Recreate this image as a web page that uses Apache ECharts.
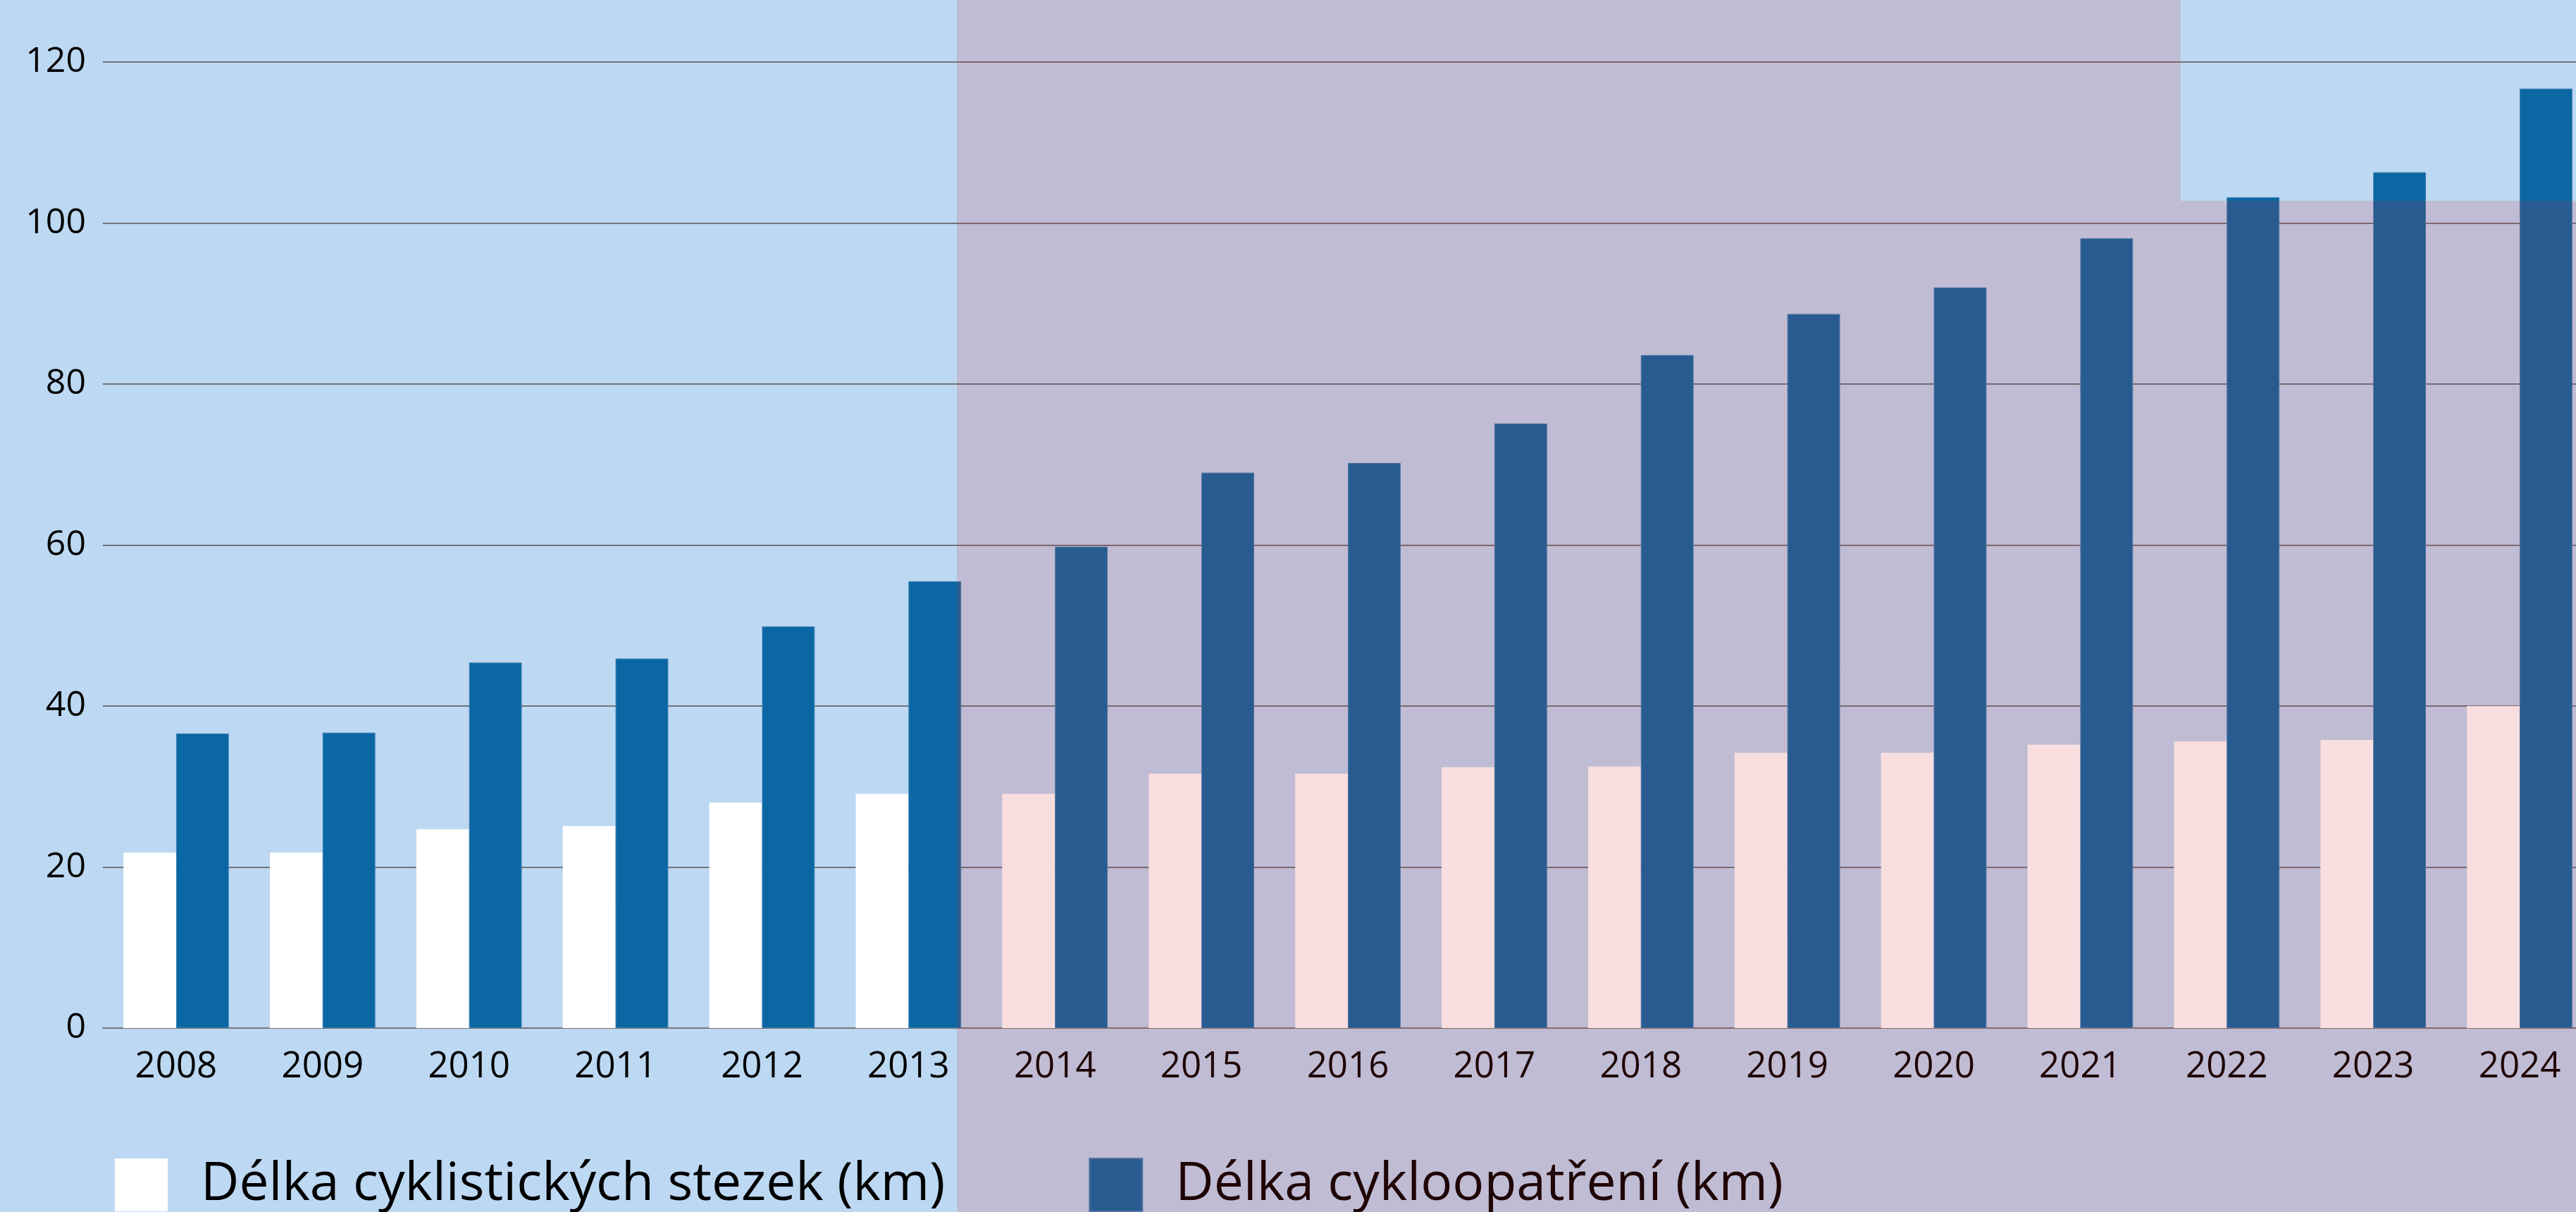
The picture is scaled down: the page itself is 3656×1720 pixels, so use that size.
<!DOCTYPE html>
<html>
<head>
<meta charset="utf-8">
<script src="https://cdn.jsdelivr.net/npm/echarts@6/dist/echarts.min.js"></script>
<style>
  html, body { margin: 0; padding: 0; background: #bdd8f2; }
  #main { width: 3656px; height: 1720px; }
</style>
</head>
<body>
<div id="main"></div>
<script>
const myChart = echarts.init(document.querySelector('#main'))

const years = ['2008', '2009', '2010', '2011', '2012', '2013', '2014', '2015', '2016',
  '2017', '2018', '2019', '2020', '2021', '2022', '2023', '2024']
// Délka cyklistických stezek (km)
const stezky = [21.8, 21.8, 24.7, 25.1, 28.0, 29.1, 29.1, 31.6, 31.6,
  32.4, 32.5, 34.2, 34.2, 35.2, 35.6, 35.8, 40.0]
// Délka cykloopatření (km)
const opatreni = [36.6, 36.7, 45.4, 45.9, 49.9, 55.5, 59.8, 69.0, 70.2,
  75.1, 83.6, 88.7, 92.0, 98.1, 103.2, 106.3, 116.7]

const names = ['Délka cyklistických stezek (km)', 'Délka cykloopatření (km)']

let option = {
  backgroundColor: '#bdd8f2',
  textStyle: { fontFamily: '"Open Sans", "Noto Sans", sans-serif' },
  grid: {
    left: 146,
    right: -24,
    top: 88,
    bottom: 261,
    outerBoundsMode: 'none'
  },
  legend: {
    data: names,
    left: 163,
    top: 1643,
    padding: 0,
    itemWidth: 75,
    itemHeight: 75,
    itemGap: 204,
    icon: 'rect',
    textStyle: {
      fontSize: 75,
      color: '#000',
      padding: [0, 0, 0, 42]
    }
  },
  xAxis: {
    type: 'category',
    data: years,
    axisLine: { lineStyle: { color: '#777', width: 2 } },
    axisTick: { length: 14, lineStyle: { color: '#666', width: 1 } },
    axisLabel: { fontSize: 51, color: '#000', margin: 30 }
  },
  yAxis: {
    type: 'value',
    min: 0,
    max: 120,
    interval: 20,
    axisLine: { show: false },
    axisTick: { show: false },
    axisLabel: { fontSize: 50, color: '#000', margin: 24 },
    splitLine: { lineStyle: { color: '#6e757b', width: 2 } }
  },
  series: [
    {
      name: names[0],
      type: 'bar',
      data: stezky,
      barWidth: '36%',
      barGap: '0%',
      itemStyle: { color: '#ffffff' }
    },
    {
      name: names[1],
      type: 'bar',
      data: opatreni,
      barWidth: '36%',
      itemStyle: { color: '#0b67a3', borderColor: '#3f80b6', borderWidth: 1 }
    }
  ],
  graphic: [
    {
      type: 'polygon',
      z: 100,
      silent: true,
      shape: {
        points: [[1358, 0], [3095, 0], [3095, 285], [3656, 285], [3656, 1720], [1358, 1720]]
      },
      style: { fill: 'rgba(206, 34, 42, 0.15)' }
    }
  ]
};
option && myChart.setOption(option);
</script>
</body>
</html>
